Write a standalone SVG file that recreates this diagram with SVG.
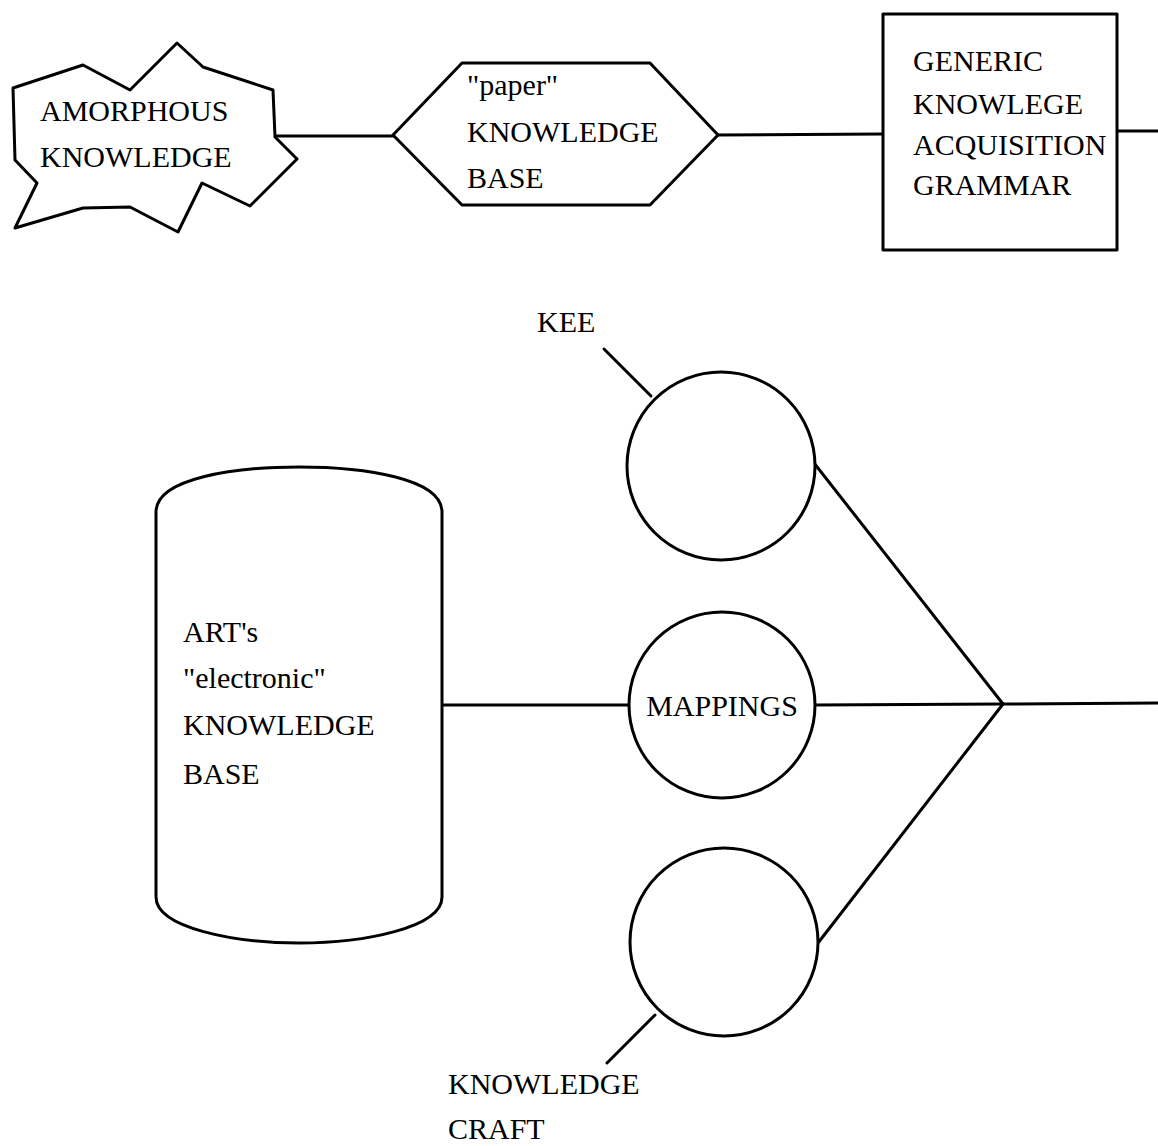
<svg xmlns="http://www.w3.org/2000/svg" width="1158" height="1146" viewBox="0 0 1158 1146">
<style>
.s{fill:#fff;stroke:#000;stroke-width:3;stroke-linejoin:round}
.c{fill:none;stroke:#000;stroke-width:3;stroke-linecap:round}
.t{font-family:"Liberation Serif","Times New Roman",serif;font-size:30px;fill:#000}
</style>
<rect width="1158" height="1146" fill="#fff"/>
<g id="connectors">
<line class="c" x1="275" y1="136" x2="393" y2="136"/>
<line class="c" x1="718" y1="135" x2="883" y2="134"/>
<line class="c" x1="1117" y1="131" x2="1158" y2="131"/>
<line class="c" x1="442" y1="705" x2="629" y2="705"/>
<line class="c" x1="815" y1="705" x2="1003" y2="704"/>
<line class="c" x1="1003" y1="704" x2="1158" y2="703"/>
<line class="c" x1="814" y1="463" x2="1003" y2="704"/>
<line class="c" x1="818" y1="943" x2="1003" y2="704"/>
<line class="c" x1="604" y1="349" x2="651" y2="396"/>
<line class="c" x1="655" y1="1015" x2="607" y2="1063"/>
</g>
<g id="amorphous">
<polygon class="s" points="13,88 83,65 130,90 177,43 203,67 273,90 275,137 297,159 250,206 202,183 178,232 130,207 83,208 15,228 37,183 15,160"/>
<text class="t" x="40" y="121">AMORPHOUS</text>
<text class="t" x="40" y="167">KNOWLEDGE</text>
</g>
<g id="paper">
<polygon class="s" points="393,135 462,63 650,63 718,135 650,205 462,205"/>
<text class="t" x="467" y="95">"paper"</text>
<text class="t" x="467" y="142">KNOWLEDGE</text>
<text class="t" x="467" y="188">BASE</text>
</g>
<g id="grammar">
<rect class="s" x="883" y="14" width="234" height="236"/>
<text class="t" x="913" y="71">GENERIC</text>
<text class="t" x="913" y="114">KNOWLEGE</text>
<text class="t" x="913" y="155">ACQUISITION</text>
<text class="t" x="913" y="195">GRAMMAR</text>
</g>
<g id="kee">
<text class="t" x="537" y="332">KEE</text>
<circle class="s" cx="721" cy="466" r="94"/>
</g>
<g id="art">
<path class="s" d="M156,512 C156,478 235,467 299,467 C363,467 442,478 442,512 L442,897 C442,928 363,943 299,943 C235,943 156,928 156,897 Z"/>
<text class="t" x="183" y="642">ART's</text>
<text class="t" x="183" y="688">"electronic"</text>
<text class="t" x="183" y="735">KNOWLEDGE</text>
<text class="t" x="183" y="784">BASE</text>
</g>
<g id="mappings">
<circle class="s" cx="722" cy="705" r="93"/>
<text class="t" x="722" y="716" text-anchor="middle">MAPPINGS</text>
</g>
<g id="knowledgecraft">
<circle class="s" cx="724" cy="942" r="94"/>
<text class="t" x="448" y="1094">KNOWLEDGE</text>
<text class="t" x="448" y="1139">CRAFT</text>
</g>
</svg>
